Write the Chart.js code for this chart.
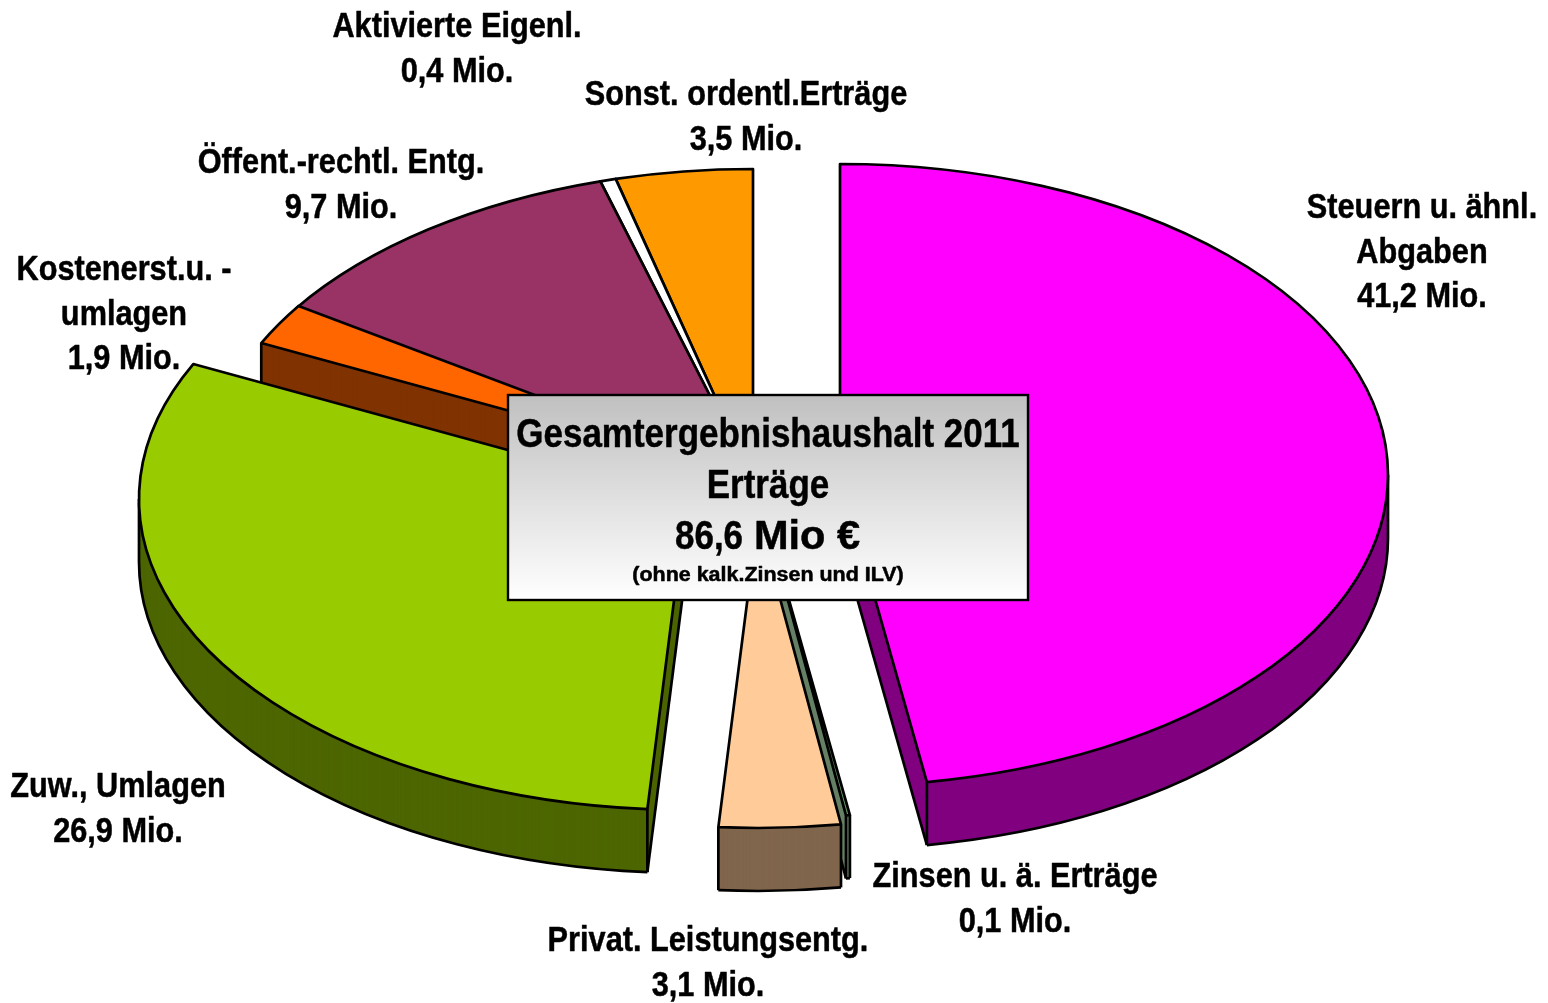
<!DOCTYPE html>
<html lang="de">
<head>
<meta charset="utf-8">
<title>Gesamtergebnishaushalt 2011 Erträge</title>
<script src="https://cdn.jsdelivr.net/npm/chart.js@4"></script>
<style>html,body{margin:0;padding:0;background:#fff;overflow:hidden}canvas{display:block}</style>
</head>
<body>
<canvas id="c" width="1548" height="1003"></canvas>
<script>
// Data (clockwise from the top)
const categories = ["Steuern u. ähnl. Abgaben","Zinsen u. ä. Erträge","Privat. Leistungsentg.","Zuw., Umlagen","Kostenerst.u. -umlagen","Öffent.-rechtl. Entg.","Aktivierte Eigenl.","Sonst. ordentl.Erträge"];
const values = [41.2,0.1,3.1,26.9,1.9,9.7,0.4,3.5];
const labelLines = [["Steuern u. ähnl.","Abgaben","41,2 Mio."],["Zinsen u. ä. Erträge","0,1 Mio."],["Privat. Leistungsentg.","3,1 Mio."],["Zuw., Umlagen","26,9 Mio."],["Kostenerst.u. -","umlagen","1,9 Mio."],["Öffent.-rechtl. Entg.","9,7 Mio."],["Aktivierte Eigenl.","0,4 Mio."],["Sonst. ordentl.Erträge","3,5 Mio."]];
const titleLines = ["Gesamtergebnishaushalt 2011","Erträge"];
const totalNumber = "86,6";
const totalUnit = "Mio €";
const noteLine = "(ohne kalk.Zinsen und ILV)";

// Styles
const topColors = ["#ff00ff","#669966","#ffcc99","#99cc00","#ff6600","#993366","#ffffff","#ff9900"];
const sideColors = ["#800080","#668066","#80664d","#4d6600","#803300","#4d1a33","#808080","#804d00"];
const apexes = [[840,475],[763,508],[758,517],[687,499],[755,478],[753,480],[753,480],[753,480]];
const labelAnchors = [[1422,218],[1015,887],[708,951],[118,797],[124,280],[341,173],[457,37],[746,105]];
const labelLineGap = 44.7;
const drawOrder = [7,6,5,4,0,1,2,3];
const RX = 548, RY = 311, DEPTH = 63, LINE = 2.7;
const BOX = {x:508,y:395,w:520,h:205};
const FONT = '"Liberation Sans", Arial, sans-serif';
const EPS = 1e-6;

function slicePath(ctx, el, cx, cy){
  ctx.beginPath();
  ctx.moveTo(cx, cy);
  ctx.ellipse(cx, cy, RX, RY, 0, el.startAngle, el.endAngle);
  ctx.closePath();
}
function vertical(ctx, ax, ay, a){
  const px = ax + RX * Math.cos(a), py = ay + RY * Math.sin(a);
  ctx.beginPath();
  ctx.moveTo(px, py);
  ctx.lineTo(px, py + DEPTH);
  ctx.stroke();
}
function wallEdges(ctx, el, ax, ay){
  const s = el.startAngle, e = el.endAngle, by = ay + DEPTH;
  const front = a => Math.sin(a) > EPS;
  const startFace = Math.cos(s) < -EPS, endFace = Math.cos(e) > EPS;
  // lower rim, only on the front half
  const a0 = Math.max(s, 0), a1 = Math.min(e, Math.PI);
  if (a1 > a0){
    ctx.beginPath();
    ctx.ellipse(ax, by, RX, RY, 0, a0, a1);
    ctx.stroke();
  }
  // lower edges of the cut faces that look at the viewer
  for (const [on, a] of [[startFace, s], [endFace, e]]){
    if (!on) continue;
    ctx.beginPath();
    ctx.moveTo(ax, by);
    ctx.lineTo(ax + RX * Math.cos(a), by + RY * Math.sin(a));
    ctx.stroke();
  }
  // vertical corners and silhouette
  if (startFace || front(s)) vertical(ctx, ax, ay, s);
  if (endFace || front(e)) vertical(ctx, ax, ay, e);
  if (s < 0 && e > 0) vertical(ctx, ax, ay, 0);
  if (s < Math.PI && e > Math.PI) vertical(ctx, ax, ay, Math.PI);
}
function stretched(ctx, text, x, y, size, sx){
  ctx.save();
  ctx.translate(x, y);
  ctx.scale(sx, 1);
  ctx.font = 'bold ' + size + 'px ' + FONT;
  ctx.lineWidth = 0.5;
  ctx.lineJoin = 'round';
  ctx.strokeStyle = '#000';
  ctx.fillText(text, 0, 0);
  ctx.strokeText(text, 0, 0);
  ctx.restore();
}
const pie3d = {
  id:'pie3d',
  beforeDatasetsDraw(chart){
    const ctx = chart.ctx, arcs = chart.getDatasetMeta(0).data;
    ctx.save();
    ctx.lineJoin = 'round';
    ctx.strokeStyle = '#000';
    ctx.lineWidth = LINE;
    for (const i of drawOrder){
      const el = arcs[i], [ax, ay] = apexes[i];
      ctx.fillStyle = sideColors[i];
      for (let d = DEPTH; d >= 0; d--){
        slicePath(ctx, el, ax, ay + d);
        ctx.fill();
      }
      wallEdges(ctx, el, ax, ay);
      // top face through the library's own arc element
      const r = el.outerRadius;
      ctx.save();
      ctx.translate(ax, ay);
      ctx.scale(RX / r, RY / r);
      ctx.translate(-el.x, -el.y);
      el.draw(ctx);
      ctx.restore();
      slicePath(ctx, el, ax, ay);
      ctx.stroke();
    }
    ctx.restore();
    return false;
  },
  afterDraw(chart){
    const ctx = chart.ctx;
    ctx.save();
    ctx.fillStyle = '#000';
    ctx.textBaseline = 'alphabetic';
    ctx.textAlign = 'center';
    labelLines.forEach((lines, i) => {
      const [x, y] = labelAnchors[i];
      lines.forEach((t, k) => stretched(ctx, t, x, y + k * labelLineGap, 34.5, 0.89));
    });
    // centre box
    const g = ctx.createLinearGradient(0, BOX.y, 0, BOX.y + BOX.h);
    g.addColorStop(0, '#c0c0c0');
    g.addColorStop(1, '#ffffff');
    ctx.fillStyle = g;
    ctx.fillRect(BOX.x, BOX.y, BOX.w, BOX.h);
    ctx.strokeStyle = '#000';
    ctx.lineWidth = 2.4;
    ctx.strokeRect(BOX.x, BOX.y, BOX.w, BOX.h);
    ctx.fillStyle = '#000';
    stretched(ctx, titleLines[0], 768, 447, 41, 0.853);
    stretched(ctx, titleLines[1], 768, 498, 41, 0.853);
    ctx.textAlign = 'left';
    stretched(ctx, totalNumber, 675, 549, 41, 0.853);
    stretched(ctx, totalUnit, 754, 549, 41.5, 1);
    ctx.textAlign = 'center';
    stretched(ctx, noteLine, 768, 581, 19.5, 1.1);
    ctx.restore();
  }
};
new Chart(document.getElementById('c'), {
  type:'pie',
  data:{labels:categories, datasets:[{data:values, backgroundColor:topColors, borderWidth:0}]},
  options:{responsive:false, animation:false, rotation:0,
    plugins:{legend:{display:false}, tooltip:{enabled:false}}},
  plugins:[pie3d]
});
</script>
</body>
</html>
